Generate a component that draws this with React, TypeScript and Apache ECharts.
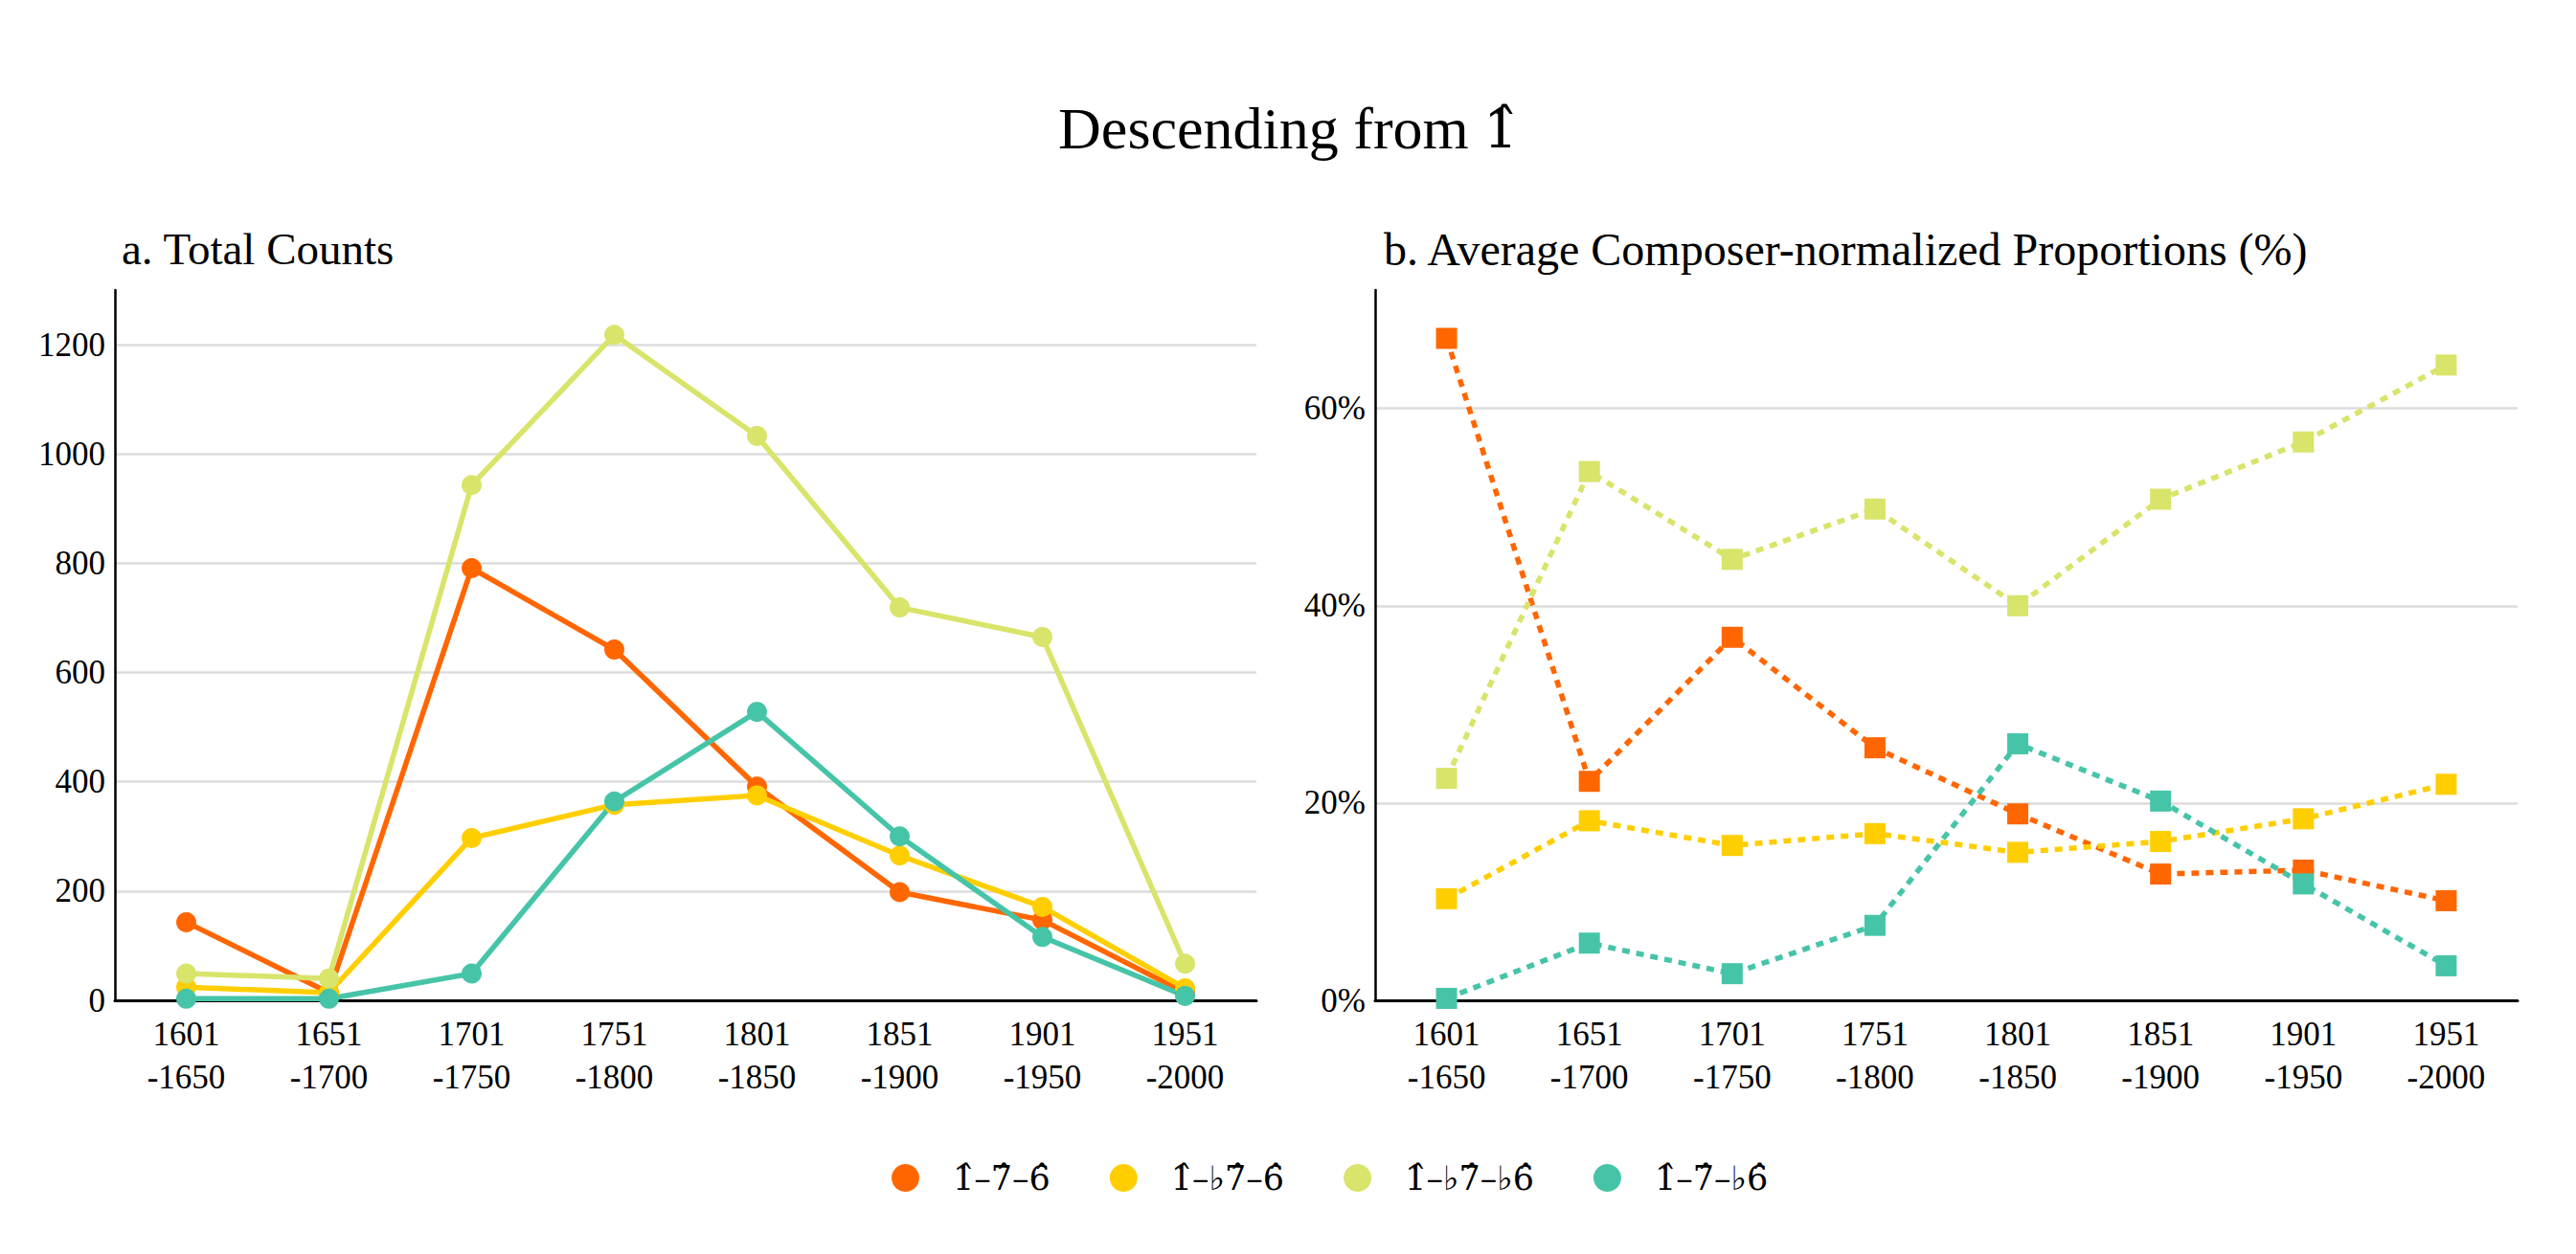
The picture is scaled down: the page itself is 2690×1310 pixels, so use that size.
import React, { useEffect, useRef } from 'react';
import * as echarts from 'echarts';

const categories = ['1601\n-1650', '1651\n-1700', '1701\n-1750', '1751\n-1800', '1801\n-1850', '1851\n-1900', '1901\n-1950', '1951\n-2000'];
const names = ['1\u0302\u20137\u0302\u20136\u0302', '1\u0302\u2013\u266D7\u0302\u20136\u0302', '1\u0302\u2013\u266D7\u0302\u2013\u266D6\u0302', '1\u0302\u20137\u0302\u2013\u266D6\u0302'];
const colors = ['#FF6600', '#FFCE00', '#D8E46A', '#46C4A8'];

// a. Total Counts
const countsA = [143, 14, 791, 642, 391, 198, 147, 14];
const countsB = [24, 14, 297, 358, 375, 265, 171, 22];
const countsC = [49, 40, 943, 1218, 1033, 719, 665, 67];
const countsD = [3, 3, 49, 364, 528, 300, 116, 8];

// b. Average composer-normalized proportions (%)
const propA = [67.1, 22.2, 36.8, 25.6, 18.9, 12.8, 13.2, 10.1];
const propB = [10.3, 18.2, 15.7, 16.9, 15.0, 16.1, 18.4, 21.9];
const propC = [22.5, 53.6, 44.7, 49.8, 40.0, 50.8, 56.6, 64.4];
const propD = [0.2, 5.8, 2.7, 7.6, 26.0, 20.2, 11.8, 3.5];

const FONT = "'Liberation Serif', 'Times New Roman', 'DejaVu Serif', serif";
// DejaVu Serif places the combining circumflex over digits correctly
const MARK_FONT = "'DejaVu Serif', serif";

const App: React.FC = () => {
  const chartRef = useRef<HTMLDivElement>(null);

  useEffect(() => {
    if (!chartRef.current) return;
    const chart = echarts.init(chartRef.current, undefined, { renderer: 'svg' });

    const xAxisBase = {
      type: 'category',
      data: categories,
      axisTick: { show: false },
      axisLine: { lineStyle: { color: '#000', width: 3 } },
      axisLabel: { color: '#000', fontSize: 35, lineHeight: 45, margin: 13, fontFamily: FONT },
    };
    const yAxisBase = {
      type: 'value',
      min: 0,
      axisTick: { show: false },
      axisLine: { show: true, lineStyle: { color: '#000', width: 2.5 } },
      splitLine: { show: true, showMaxLine: false, lineStyle: { color: '#dcdcdc', width: 2.5 } },
    };

    const counts = [countsA, countsB, countsC, countsD];
    const props = [propA, propB, propC, propD];

    const option = {
      animation: false,
      backgroundColor: '#fff',
      textStyle: { fontFamily: FONT },
      title: [
        {
          text: '{a|Descending from }{b|1\u0302}',
          left: 'center',
          top: 98,
          textStyle: {
            fontSize: 62, fontWeight: 'normal', color: '#000', fontFamily: FONT,
            rich: {
              a: { fontSize: 62, color: '#000', fontFamily: FONT },
              b: { fontSize: 56, color: '#000', fontFamily: MARK_FONT },
            },
          },
        },
        { text: 'a. Total Counts', left: 122, top: 231, textStyle: { fontSize: 47, fontWeight: 'normal', color: '#000', fontFamily: FONT } },
        { text: 'b. Average Composer-normalized Proportions (%)', left: 1440, top: 231, textStyle: { fontSize: 48, fontWeight: 'normal', color: '#000', fontFamily: FONT } },
      ],
      legend: {
        data: names,
        icon: 'circle',
        itemWidth: 29,
        itemHeight: 29,
        itemGap: 62,
        left: 926,
        top: 1208,
        textStyle: { fontSize: 35, color: '#000', fontFamily: MARK_FONT, padding: [0, 0, 0, 30] },
      },
      grid: [
        { left: 120, top: 303, width: 1192, height: 742 },
        { left: 1436, top: 303, width: 1193, height: 742 },
      ],
      xAxis: [
        { ...xAxisBase, gridIndex: 0 },
        { ...xAxisBase, gridIndex: 1 },
      ],
      yAxis: [
        {
          ...yAxisBase, gridIndex: 0, max: 1300, interval: 200,
          axisLabel: { color: '#000', fontSize: 35, margin: 10, showMaxLabel: false, fontFamily: FONT, formatter: (v: number) => String(v) },
        },
        {
          ...yAxisBase, gridIndex: 1, max: 72, interval: 20,
          axisLabel: { color: '#000', fontSize: 35, margin: 10, showMaxLabel: false, fontFamily: FONT, formatter: '{value}%' },
        },
      ],
      series: [
        ...counts.map((d, i) => ({
          name: names[i],
          type: 'line',
          xAxisIndex: 0,
          yAxisIndex: 0,
          data: d,
          symbol: 'circle',
          symbolSize: 21,
          itemStyle: { color: colors[i] },
          lineStyle: { color: colors[i], width: 5.5 },
          clip: false,
        })),
        ...props.map((d, i) => ({
          name: names[i],
          type: 'line',
          xAxisIndex: 1,
          yAxisIndex: 1,
          data: d,
          symbol: 'rect',
          symbolSize: 22,
          itemStyle: { color: colors[i] },
          lineStyle: { color: colors[i], width: 5.5, type: [8, 7] },
          clip: false,
        })),
      ],
    };

    chart.setOption(option);
    return () => { chart.dispose(); };
  }, []);

  return <div ref={chartRef} style={{ position: 'fixed', left: 0, top: 0, width: '2690px', height: '1310px' }} />;
};

export default App;
